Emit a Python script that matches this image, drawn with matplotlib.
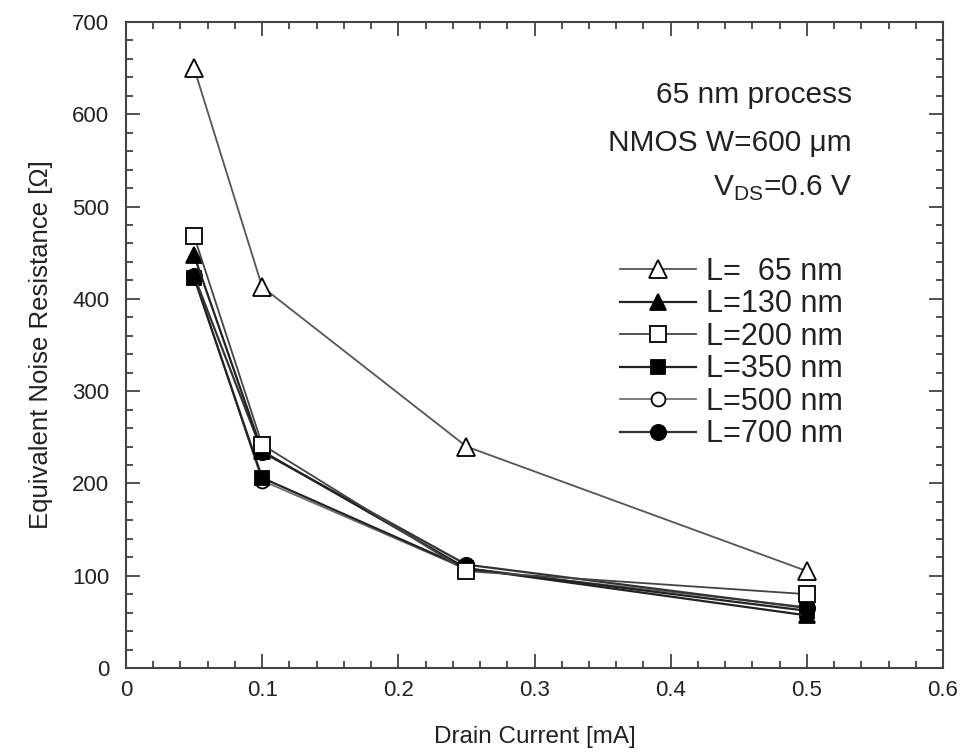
import matplotlib
matplotlib.use("Agg")
import matplotlib.pyplot as plt
from matplotlib.ticker import MultipleLocator

plt.rcParams['font.family'] = ['Liberation Sans', 'DejaVu Sans']

# Drain current bias points [mA]
drain_current = [0.05, 0.1, 0.25, 0.5]

# Equivalent noise resistance [Ohm] per channel length
rn_L65 = [650, 413, 240, 105]
rn_L130 = [447, 235, 108, 57]
rn_L200 = [468, 242, 105, 80]
rn_L350 = [423, 206, 108, 62]
rn_L500 = [424, 203, 107, 66]
rn_L700 = [425, 234, 112, 65]

labels = ["L=  65 nm", "L=130 nm", "L=200 nm", "L=350 nm", "L=500 nm", "L=700 nm"]
series = [rn_L65, rn_L130, rn_L200, rn_L350, rn_L500, rn_L700]
markers = ["^", "^", "s", "s", "o", "o"]
faces = ["white", "black", "white", "black", "white", "black"]
sizes = [13, 12, 12, 10.5, 10, 11]
line_colors = ["#555555", "#222222", "#444444", "#222222", "#666666", "#333333"]
line_widths = [1.3, 1.6, 1.3, 1.6, 1.2, 1.6]
z_orders = [2.6, 2.4, 2.5, 2.3, 2.0, 2.35]

fig = plt.figure(figsize=(9.70, 7.53), dpi=100)
ax = fig.add_axes([126/970, 1 - 668/753, (943-126)/970, (668-22)/753])

for y, lab, m, fc, ms, lc, lw, zo in zip(series, labels, markers, faces, sizes,
                                         line_colors, line_widths, z_orders):
    ax.plot(drain_current, y, marker=m, markersize=ms, markerfacecolor=fc,
            markeredgecolor="black", markeredgewidth=1.3, color=lc, linewidth=lw,
            label=lab, clip_on=False, zorder=zo)

ax.set_xlim(0, 0.6)
ax.set_ylim(0, 700)
ax.set_xticks([0, 0.1, 0.2, 0.3, 0.4, 0.5, 0.6])
ax.set_xticklabels(["0", "0.1", "0.2", "0.3", "0.4", "0.5", "0.6"])
ax.xaxis.set_minor_locator(MultipleLocator(0.02))
ax.yaxis.set_major_locator(MultipleLocator(100))
ax.yaxis.set_minor_locator(MultipleLocator(20))
ax.tick_params(which="both", direction="in", top=True, right=True, color="#333333", width=1.2)
ax.tick_params(which="major", length=10, labelsize=16, labelcolor="#222222")
ax.tick_params(axis="x", which="major", pad=9)
ax.tick_params(axis="y", which="major", pad=12)
ax.tick_params(which="minor", length=5)
for s in ax.spines.values():
    s.set_linewidth(1.5)
    s.set_color("#444444")

ax.set_xlabel("Drain Current [mA]", fontsize=17.5, color="#222222", labelpad=18)
ax.set_ylabel("Equivalent Noise Resistance [\u03a9]", fontsize=18.5, color="#222222", labelpad=14)

note_x = 0.533
ax.text(note_x, 612, "65 nm process", fontsize=21.5, ha="right", va="baseline", color="#222222")
ax.text(note_x, 560, "NMOS W=600 \u03bcm", fontsize=21.5, ha="right", va="baseline", color="#222222")
ax.text(note_x, 512, "V$_\\mathregular{DS}$=0.6 V", fontsize=21.5, ha="right", va="baseline", color="#222222")

leg = ax.legend(loc="upper left", bbox_to_anchor=((620-126)/817, 1 - (257-22)/646),
                frameon=False, fontsize=22, handlelength=2.5, handletextpad=0.3,
                labelspacing=0.08, borderaxespad=0, borderpad=0)
for t in leg.get_texts():
    t.set_color("#222222")

fig.savefig("out.png", dpi=100)
